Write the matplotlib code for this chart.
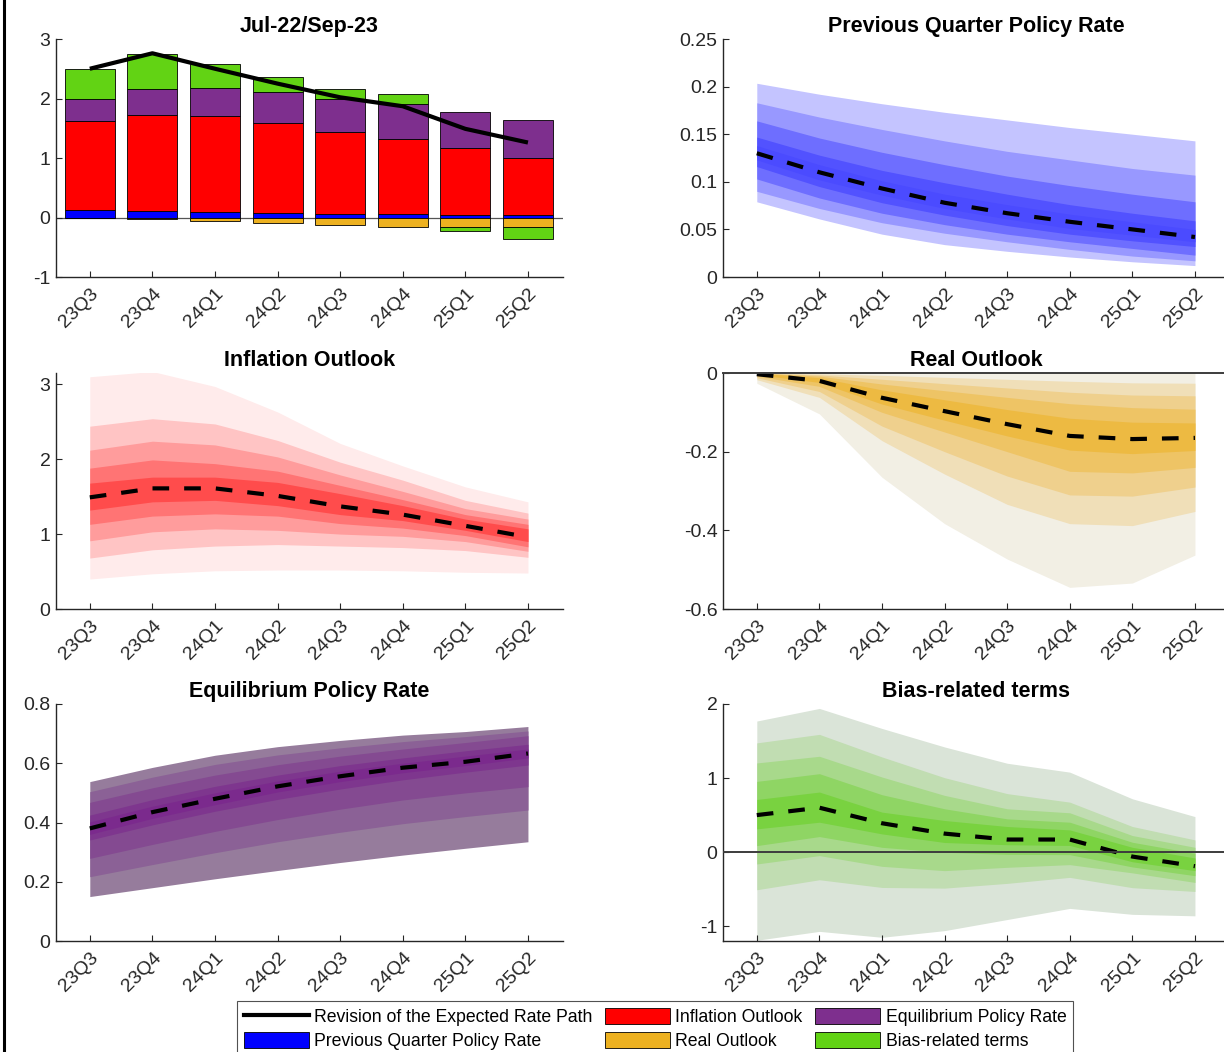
import matplotlib
matplotlib.use("Agg")
import matplotlib.pyplot as plt
import numpy as np
from matplotlib.lines import Line2D
from matplotlib.patches import Patch
from matplotlib.ticker import FuncFormatter

plt.rcParams['font.family'] = ['Liberation Sans', 'DejaVu Sans']
plt.rcParams['axes.unicode_minus'] = False

quarters = ['23Q3', '23Q4', '24Q1', '24Q2', '24Q3', '24Q4', '25Q1', '25Q2']

# Revision of the expected rate path (solid line in the decomposition)
rate_revision = [2.50, 2.76, 2.50, 2.25, 2.02, 1.87, 1.49, 1.26]

# Component medians (bars in the decomposition, dashed lines in the fans)
prev_rate = [0.130, 0.110, 0.093, 0.078, 0.067, 0.058, 0.050, 0.042]
inflation = [1.49, 1.61, 1.61, 1.51, 1.37, 1.26, 1.11, 0.96]
real_out = [-0.003, -0.020, -0.063, -0.097, -0.130, -0.160, -0.168, -0.165]
equilibrium = [0.380, 0.435, 0.480, 0.522, 0.556, 0.585, 0.605, 0.633]
bias = [0.50, 0.60, 0.39, 0.25, 0.17, 0.17, -0.06, -0.19]

# Fan bands: (upper, lower) from the widest band to the narrowest
prev_bands = [
    ([.2035, .192, .182, .173, .165, .157, .150, .143], [.079, .061, .045, .034, .027, .021, .016, .012]),
    ([.183, .168, .155, .143, .132, .123, .114, .107], [.090, .072, .057, .046, .037, .029, .022, .017]),
    ([.164, .146, .131, .118, .106, .096, .087, .079], [.103, .083, .067, .055, .045, .037, .030, .023]),
    ([.147, .128, .112, .099, .087, .076, .067, .059], [.116, .095, .078, .065, .054, .045, .038, .032]),
    ([.138, .118, .101, .087, .076, .066, .058, .050], [.123, .102, .086, .072, .061, .051, .044, .037]),
]
infl_bands = [
    ([3.10, 3.17, 2.97, 2.63, 2.21, 1.91, 1.63, 1.43], [0.40, 0.47, 0.51, 0.52, 0.52, 0.51, 0.49, 0.48]),
    ([2.44, 2.54, 2.47, 2.25, 1.96, 1.72, 1.45, 1.28], [0.68, 0.79, 0.84, 0.86, 0.84, 0.82, 0.78, 0.69]),
    ([2.12, 2.24, 2.19, 2.03, 1.79, 1.57, 1.34, 1.20], [0.91, 1.03, 1.07, 1.05, 1.00, 0.97, 0.90, 0.77]),
    ([1.88, 1.99, 1.94, 1.84, 1.65, 1.46, 1.26, 1.13], [1.13, 1.24, 1.27, 1.24, 1.14, 1.08, 0.98, 0.83]),
    ([1.68, 1.76, 1.76, 1.69, 1.54, 1.38, 1.20, 1.07], [1.32, 1.43, 1.45, 1.38, 1.26, 1.18, 1.05, 0.90]),
]
real_bands = [
    ([0.0, 0.0, 0.0, 0.0, 0.0, 0.0, 0.0, 0.0], [-0.026, -0.104, -0.265, -0.383, -0.473, -0.545, -0.534, -0.463]),
    ([0.0, -0.002, -0.006, -0.011, -0.016, -0.021, -0.025, -0.026], [-0.017, -0.062, -0.172, -0.257, -0.334, -0.383, -0.388, -0.352]),
    ([0.0, -0.005, -0.016, -0.027, -0.038, -0.049, -0.056, -0.058], [-0.012, -0.047, -0.135, -0.200, -0.262, -0.310, -0.313, -0.290]),
    ([0.0, -0.008, -0.028, -0.045, -0.062, -0.078, -0.088, -0.092], [-0.008, -0.034, -0.100, -0.150, -0.200, -0.250, -0.254, -0.240]),
    ([0.0, -0.012, -0.043, -0.068, -0.093, -0.115, -0.125, -0.127], [-0.004, -0.024, -0.079, -0.120, -0.160, -0.196, -0.205, -0.197]),
]
equi_bands = [
    ([.538, .586, .627, .656, .677, .695, .707, .724], [.150, .180, .210, .238, .265, .290, .313, .335]),
    ([.504, .553, .596, .628, .652, .673, .690, .709], [.217, .258, .298, .335, .367, .396, .420, .442]),
    ([.468, .517, .560, .595, .624, .648, .670, .693], [.279, .326, .370, .410, .445, .476, .500, .521]),
    ([.425, .477, .522, .560, .592, .618, .642, .664], [.341, .392, .438, .478, .513, .544, .570, .594]),
    ([.402, .455, .500, .540, .573, .600, .624, .648], [.360, .414, .460, .503, .538, .568, .592, .618]),
]
bias_bands = [
    ([1.77, 1.94, 1.67, 1.42, 1.20, 1.08, 0.72, 0.48], [-1.19, -1.07, -1.15, -1.06, -0.91, -0.76, -0.84, -0.86]),
    ([1.475, 1.59, 1.285, 1.005, 0.79, 0.675, 0.346, 0.165], [-0.508, -0.373, -0.477, -0.486, -0.422, -0.341, -0.48, -0.531]),
    ([1.204, 1.294, 1.014, 0.766, 0.585, 0.531, 0.224, 0.065], [-0.16, -0.047, -0.192, -0.25, -0.205, -0.169, -0.28, -0.409]),
    ([0.955, 1.059, 0.775, 0.585, 0.449, 0.404, 0.133, -0.016], [0.088, 0.21, 0.065, -0.002, -0.03, -0.034, -0.20, -0.318]),
    ([0.711, 0.811, 0.54, 0.427, 0.346, 0.30, 0.065, -0.079], [0.314, 0.404, 0.246, 0.13, 0.10, 0.09, -0.13, -0.25]),
]

BAR_COLORS = {
    'prev': '#0000FF', 'infl': '#FF0000', 'real': '#EDB120',
    'equi': '#7E2F8E', 'bias': '#62D314',
}
FAN_COLORS = {
    'prev': ['#C4C4FF', '#9898FF', '#6E6EFF', '#5252FF', '#4B4BFF'],
    'infl': ['#FFEBEB', '#FFC4C4', '#FF9C9C', '#FF7474', '#FF4C4C'],
    'real': ['#F2EFE4', '#F0DFB8', '#EFD08D', '#EEC465', '#EDBA42'],
    'equi': ['#967C9C', '#8B6196', '#844A91', '#7E368E', '#7B2A8D'],
    'bias': ['#DAE4D8', '#C1DDB2', '#A8D98B', '#8FD564', '#79D240'],
}

AX_COL = '#262626'
W, H = 1224, 1052
fig = plt.figure(figsize=(W / 100, H / 100), dpi=100)


def make_axes(x0, x1, y_top, y_bot):
    return fig.add_axes([x0 / W, 1 - y_bot / H, (x1 - x0) / W, (y_bot - y_top) / H])


def style(ax, ylim, yticks, title):
    x = np.arange(1, len(quarters) + 1)
    ax.set_xlim(0.46, 8.56)
    ax.set_ylim(*ylim)
    ax.set_yticks(yticks)
    ax.yaxis.set_major_formatter(FuncFormatter(lambda v, p: f'{v:g}'))
    ax.set_xticks(x)
    ax.set_xticklabels(quarters, rotation=45, ha='right', va='top',
                       rotation_mode='anchor')
    for side in ('top', 'right'):
        ax.spines[side].set_visible(False)
    for side in ('left', 'bottom'):
        ax.spines[side].set_color(AX_COL)
        ax.spines[side].set_linewidth(1.0)
    ax.tick_params(direction='in', length=4, width=0.8, colors=AX_COL,
                   labelsize=14, labelcolor=AX_COL, pad=4)
    ax.tick_params(axis='x', pad=6)
    ax.set_title(title, fontsize=15.5, fontweight='bold', pad=5)


def fan(ax, bands, median, colors):
    x = np.arange(1, len(quarters) + 1)
    for (up, lo), c in zip(bands, colors):
        ax.fill_between(x, lo, up, color=c, linewidth=0)
    ax.plot(x, median, color='black', lw=3.0, linestyle=(0, (4.0, 3.6)),
            dash_capstyle='butt', zorder=5)


LX0, LX1 = 56, 563
RX0, RX1 = 723, 1230
ROWS = [(39, 277), (373, 609), (704, 941)]

# Decomposition: stacked bars plus the revision line
ax1 = make_axes(LX0, LX1, *ROWS[0])
x = np.arange(1, len(quarters) + 1)
pos_base = np.zeros(len(x))
neg_base = np.zeros(len(x))
for key, vals in [('prev', prev_rate), ('infl', inflation), ('real', real_out),
                  ('equi', equilibrium), ('bias', bias)]:
    v = np.asarray(vals)
    bottom = np.where(v >= 0, pos_base, neg_base)
    ax1.bar(x, v, width=0.8, bottom=bottom, color=BAR_COLORS[key],
            edgecolor='black', linewidth=0.6, zorder=2)
    pos_base = pos_base + np.where(v >= 0, v, 0)
    neg_base = neg_base + np.where(v < 0, v, 0)
ax1.axhline(0, color='#555555', lw=0.9, zorder=1)
ax1.plot(x, rate_revision, color='black', lw=3.0, zorder=4,
         solid_capstyle='butt')
style(ax1, (-1, 3), [-1, 0, 1, 2, 3], 'Jul-22/Sep-23')

ax2 = make_axes(RX0, RX1, *ROWS[0])
fan(ax2, prev_bands, prev_rate, FAN_COLORS['prev'])
style(ax2, (0, 0.25), [0, 0.05, 0.1, 0.15, 0.2, 0.25], 'Previous Quarter Policy Rate')

ax3 = make_axes(LX0, LX1, *ROWS[1])
fan(ax3, infl_bands, inflation, FAN_COLORS['infl'])
style(ax3, (0, 3.15), [0, 1, 2, 3], 'Inflation Outlook')

ax4 = make_axes(RX0, RX1, *ROWS[1])
fan(ax4, real_bands, real_out, FAN_COLORS['real'])
ax4.axhline(0, color='#3C3C3C', lw=1.4, zorder=6, clip_on=False)
style(ax4, (-0.6, 0), [-0.6, -0.4, -0.2, 0], 'Real Outlook')

ax5 = make_axes(LX0, LX1, *ROWS[2])
fan(ax5, equi_bands, equilibrium, FAN_COLORS['equi'])
style(ax5, (0, 0.8), [0, 0.2, 0.4, 0.6, 0.8], 'Equilibrium Policy Rate')

ax6 = make_axes(RX0, RX1, *ROWS[2])
fan(ax6, bias_bands, bias, FAN_COLORS['bias'])
ax6.axhline(0, color='#3C3C3C', lw=1.4, zorder=6)
style(ax6, (-1.2, 2), [-1, 0, 1, 2], 'Bias-related terms')

# Shared legend
handles = [
    Line2D([], [], color='black', lw=3),
    Patch(facecolor=BAR_COLORS['prev'], edgecolor='black', linewidth=0.6),
    Patch(facecolor=BAR_COLORS['infl'], edgecolor='black', linewidth=0.6),
    Patch(facecolor=BAR_COLORS['real'], edgecolor='black', linewidth=0.6),
    Patch(facecolor=BAR_COLORS['equi'], edgecolor='black', linewidth=0.6),
    Patch(facecolor=BAR_COLORS['bias'], edgecolor='black', linewidth=0.6),
]
labels = ['Revision of the Expected Rate Path', 'Previous Quarter Policy Rate',
          'Inflation Outlook', 'Real Outlook', 'Equilibrium Policy Rate',
          'Bias-related terms']
leg = fig.legend(handles, labels, ncol=3, loc='upper center',
                 bbox_to_anchor=(655 / W, 1 - 1001 / H), fontsize=12.7,
                 frameon=True, fancybox=False, edgecolor=AX_COL,
                 handlelength=3.7, handleheight=1.0, handletextpad=0.3,
                 columnspacing=0.7, labelspacing=0.35, borderpad=0.4,
                 borderaxespad=0)
leg.get_frame().set_linewidth(0.8)

# Left border rule
fig.add_artist(Line2D([4 / W, 4 / W], [0, 1], color='black', lw=2.2,
                      transform=fig.transFigure))

fig.savefig('out.png', dpi=100)
